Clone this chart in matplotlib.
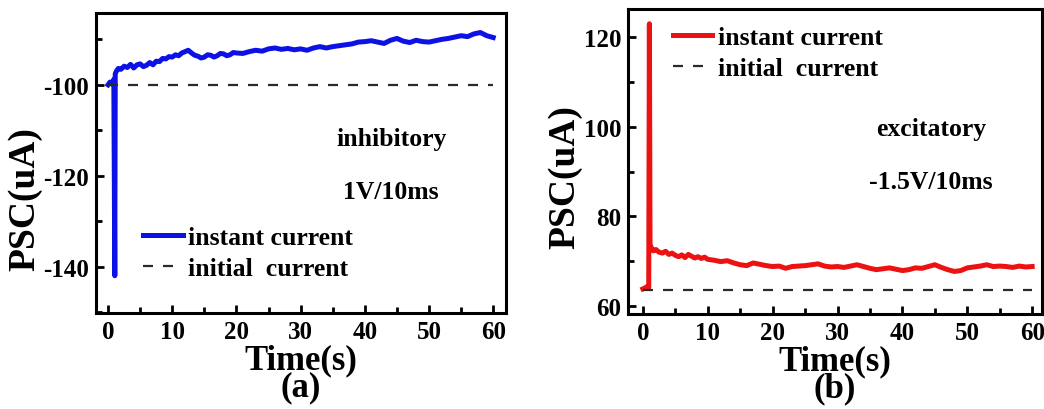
import matplotlib
matplotlib.use("Agg")
import matplotlib.pyplot as plt
from matplotlib.ticker import MultipleLocator

plt.rcParams['font.family'] = ['Liberation Serif', 'DejaVu Serif']
plt.rcParams['font.weight'] = 'bold'
plt.rcParams['axes.unicode_minus'] = False

# ---- data (a) inhibitory ----
t_a = [0, 0.3, 0.6, 0.9, 1.05, 1.12, 1.3, 1.6, 2, 2.5, 3, 3.5, 4, 4.5, 5, 5.5, 6, 6.5, 7, 7.5, 8, 8.5,
       9, 9.5, 10, 10.5, 11, 11.5, 12, 12.5, 13, 13.5, 14, 14.5, 15, 15.5, 16, 16.5, 17, 17.5, 18, 18.5,
       19, 19.5, 20, 21, 22, 23, 24, 25, 26, 27, 28, 29, 30, 31, 32, 33, 34, 35, 36, 37, 38, 39, 40,
       41, 42, 43, 44, 45, 46, 47, 48, 49, 50, 51, 52, 53, 54, 55, 56, 57, 58, 59, 60]
psc_a = [-100.0, -99.4, -99.8, -98.8, -142.0, -97.6, -97.0, -96.4, -96.6, -95.9, -96.2, -95.5, -96.3, -95.6,
         -95.4, -96.0, -95.7, -95.1, -95.6, -94.8, -94.9, -94.2, -94.3, -93.8, -93.9, -93.4, -93.6, -93.0,
         -92.7, -92.4, -93.0, -93.5, -93.7, -94.1, -93.9, -93.4, -93.5, -93.9, -93.6, -93.1, -93.2, -93.6,
         -93.4, -92.9, -93.0, -93.1, -92.7, -92.4, -92.6, -92.1, -91.9, -92.2, -92.0, -92.3, -92.1, -92.4,
         -91.9, -91.6, -91.9, -91.6, -91.4, -91.2, -91.0, -90.6, -90.5, -90.3, -90.6, -90.9, -90.2, -89.8,
         -90.4, -90.7, -90.2, -90.5, -90.6, -90.3, -90.0, -89.8, -89.5, -89.2, -89.4, -88.8, -88.5, -89.2,
         -89.6]
init_a = -100.0

# ---- data (b) excitatory ----
t_b = [0, 0.3, 0.6, 0.9, 1.0, 1.1, 1.3, 1.6, 2, 2.5, 3, 3.5, 4, 4.5, 5, 5.5, 6, 6.5, 7, 7.5, 8, 8.5, 9, 9.5,
       10, 11, 12, 13, 14, 15, 16, 17, 18, 19, 20, 21, 22, 23, 24, 25, 26, 27, 28, 29, 30, 31, 32, 33, 34,
       35, 36, 37, 38, 39, 40, 41, 42, 43, 44, 45, 46, 47, 48, 49, 50, 51, 52, 53, 54, 55, 56, 57, 58, 59, 60]
psc_b = [63.8, 64.0, 64.3, 64.1, 123.0, 73.8, 73.0, 72.3, 72.6, 72.0, 71.8, 72.2, 71.5, 71.8, 71.3, 71.0,
         71.4, 70.8, 71.5, 71.1, 70.7, 71.0, 70.6, 70.9, 70.4, 70.2, 69.9, 70.1, 69.6, 69.2, 69.0, 69.6,
         69.3, 69.0, 68.8, 68.9, 68.4, 68.8, 68.9, 69.0, 69.2, 69.4, 68.9, 68.7, 68.8, 68.6, 68.9, 69.2,
         68.8, 68.4, 68.1, 68.3, 68.5, 68.2, 67.9, 68.1, 68.5, 68.4, 68.8, 69.2, 68.6, 68.1, 67.7, 67.9,
         68.5, 68.7, 68.9, 69.2, 68.8, 68.9, 68.8, 68.6, 68.9, 68.7, 68.8]
init_b = 63.6

init_t = [0, 60]

fig = plt.figure(figsize=(10.44, 4.10), dpi=100)
ax1 = fig.add_axes([0.092, 0.2341, 0.3927, 0.7318])
ax2 = fig.add_axes([0.6015, 0.2317, 0.3965, 0.7439])

tick_fs = 18
lab_fs = 25
txt_fs = 18.5
dash_col = '#2a2a2a'

def style(ax):
    for s in ax.spines.values():
        s.set_linewidth(2.2)
    ax.tick_params(which='major', direction='in', length=6, width=2, labelsize=tick_fs, pad=5)
    ax.tick_params(which='minor', direction='in', length=4, width=2)
    ax.tick_params(top=False, right=False, which='both')
    ax.xaxis.set_major_locator(MultipleLocator(10))
    ax.xaxis.set_minor_locator(MultipleLocator(5))
    for lab in ax.get_xticklabels() + ax.get_yticklabels():
        lab.set_fontweight('bold')

leg_kw = dict(frameon=False, prop={'size': txt_fs, 'weight': 'bold'}, handlelength=1.55,
              handletextpad=0.2, labelspacing=0.32, borderaxespad=0, borderpad=0)

# (a)
ax1.plot(t_a, psc_a, color='#0c12e6', lw=3.6, label='instant current')
ax1.plot(init_t, [init_a, init_a], color=dash_col, lw=1.6, ls=(0, (4.5, 4.5)), label='initial  current')
ax1.set_xlim(-1.87, 62.0)
ax1.set_ylim(-150.2, -84.2)
ax1.yaxis.set_major_locator(MultipleLocator(20))
ax1.yaxis.set_minor_locator(MultipleLocator(10))
style(ax1)
ax1.set_xlabel('Time(s)\n(a)', fontsize=lab_fs, fontweight='bold', labelpad=0, linespacing=0.78)
ax1.set_ylabel('PSC(uA)', fontsize=27, fontweight='bold')
ax1.yaxis.set_label_coords(-0.13, 0.383)
ax1.text(0.72, 0.58, 'inhibitory', transform=ax1.transAxes, fontsize=txt_fs, fontweight='bold', ha='center', va='center')
ax1.text(0.72, 0.405, '1V/10ms', transform=ax1.transAxes, fontsize=txt_fs, fontweight='bold', ha='center', va='center')
ax1.legend(loc='lower left', bbox_to_anchor=(0.115, 0.11), **leg_kw)

# (b)
ax2.plot(t_b, psc_b, color='#ec1212', lw=3.6, label='instant current')
ax2.plot(init_t, [init_b, init_b], color=dash_col, lw=1.6, ls=(0, (4.5, 4.5)), label='initial  current')
ax2.set_xlim(-2.3, 61.5)
ax2.set_ylim(58.2, 126.3)
ax2.yaxis.set_major_locator(MultipleLocator(20))
ax2.yaxis.set_minor_locator(MultipleLocator(10))
style(ax2)
ax2.set_xlabel('Time(s)\n(b)', fontsize=lab_fs, fontweight='bold', labelpad=0, linespacing=0.78)
ax2.set_ylabel('PSC(uA)', fontsize=27, fontweight='bold')
ax2.yaxis.set_label_coords(-0.11, 0.452)
ax2.text(0.732, 0.607, 'excitatory', transform=ax2.transAxes, fontsize=txt_fs, fontweight='bold', ha='center', va='center')
ax2.text(0.732, 0.433, '-1.5V/10ms', transform=ax2.transAxes, fontsize=txt_fs, fontweight='bold', ha='center', va='center')
ax2.legend(loc='upper left', bbox_to_anchor=(0.108, 0.945), **leg_kw)

fig.savefig('out.png', dpi=100)
